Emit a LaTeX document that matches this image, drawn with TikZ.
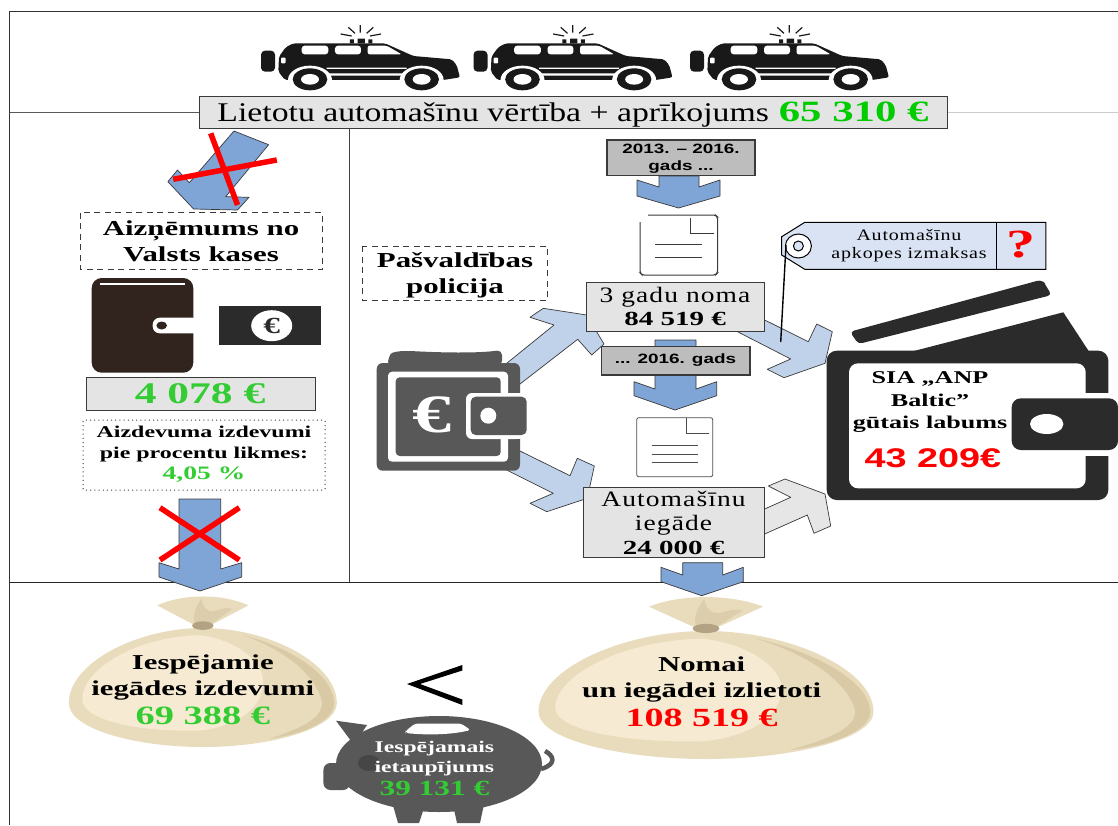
\documentclass[tikz,border=0pt]{standalone}
\usepackage{fontspec}
\setmainfont[FakeStretch=1.25,BoldFeatures={FakeStretch=1.45}]{Liberation Serif}
\setsansfont[FakeStretch=1.2,BoldFeatures={FakeStretch=1.4}]{Liberation Sans}
\definecolor{boxg}{HTML}{E4E4E4}
\definecolor{boxd}{HTML}{BDBDBD}
\definecolor{edge}{HTML}{3A3A3A}
\definecolor{arrowb}{HTML}{7FA4D6}
\definecolor{arrowl}{HTML}{C0D2EA}
\definecolor{arrowg}{HTML}{E6E6E6}
\definecolor{walletg}{HTML}{585858}
\definecolor{walletd}{HTML}{2B2B2B}
\definecolor{walletb}{HTML}{31241E}
\definecolor{greena}{HTML}{00CC00}
\definecolor{greenb}{HTML}{33CC33}
\definecolor{tagb}{HTML}{DAE3F3}
\definecolor{bagbase}{HTML}{E8DCBC}
\definecolor{baglight}{HTML}{F6EBD2}
\definecolor{bagdark}{HTML}{D9C9A5}
\definecolor{bagneck}{HTML}{B3A384}
\definecolor{bagfold}{HTML}{DCCEAC}
\newcommand{\fsz}[2]{\fontsize{#1}{#2}\selectfont}
\newcommand{\spaced}[1]{{\addfontfeature{LetterSpace=5}#1}}
\tikzset{
  txt/.style={inner sep=0pt,align=center,text=black},
  graybox/.style={draw=edge,fill=boxg,line width=1pt},
  darkbox/.style={draw=edge,fill=boxd,line width=1.2pt},
  bigarrow/.style={draw=edge,fill=arrowb,line width=.7pt,line join=round},
  softarrow/.style={draw=edge,fill=arrowl,line width=.7pt,line join=round},
  greyarrow/.style={draw=edge,fill=arrowg,line width=.7pt,line join=round},
  redcross/.style={draw=red,line width=5.5pt},
  dashbox/.style={draw=edge,line width=.9pt,dash pattern=on 6pt off 4.5pt},
  dotbox/.style={draw=edge,line width=1pt,dash pattern=on 1pt off 3.2pt,rounded corners=1pt},
  docshape/.style={draw=edge,line width=1pt,rounded corners=2pt},
  frameline/.style={draw=black!80,line width=1.2pt},
}
\newcommand{\policecar}[1]{%
 \begin{scope}[shift={(#1,20)},xscale=.3333,yscale=.3333]
  \fill[black!90,rounded corners=4pt] (18,92) rectangle (60,155);
  \fill[black!90,rounded corners=2pt] (70,155) -- (72,110) -- (92,82) -- (115,70) -- (390,70) -- (475,108) -- (590,118) -- (605,135) -- (615,172) -- (565,180) -- (90,180) -- cycle;
  \fill[black!90] (285,58) rectangle (297,70) (308,56) rectangle (330,70) (340,58) rectangle (352,70);
  \draw[black!90,line width=1.2pt] (316,15) -- (316,38) (280,22) -- (300,40) (355,22) -- (335,40) (257,42) -- (290,48) (378,42) -- (345,48);
  \fill[white,rounded corners=3pt] (140,77) rectangle (220,103) (240,77) rectangle (318,103);
  \fill[white,rounded corners=2pt] (338,103) -- (338,77) -- (395,77) -- (440,103) -- cycle;
  \fill[white,rounded corners=1pt] (78,113) rectangle (92,130);
  \fill[white] (215,143) rectangle (455,147) (215,160) rectangle (455,167);
  \fill[white] (165,180) ellipse [x radius=66,y radius=43] (500,180) ellipse [x radius=66,y radius=43];
  \fill[white] (90,181) rectangle (230,215) (435,181) rectangle (570,215);
  \fill[black!90] (165,178) ellipse [x radius=52,y radius=33] (500,178) ellipse [x radius=52,y radius=33];
  \fill[white] (165,178) ellipse [x radius=27,y radius=16] (500,178) ellipse [x radius=27,y radius=16];
 \end{scope}}
\newcommand{\moneybag}[4]{%
 \begin{scope}[shift={(#1,#2)},xscale=#3/100,yscale=#4/100]
  \fill[bagbase] (-34,-19) .. controls (-15,-29) and (15,-29) .. (34,-19) -- (7,-3) -- (-7,-3) -- cycle;
  \fill[bagfold] (-6,-4) .. controls (-8,-12) and (-4,-20) .. (-1,-25) .. controls (0,-18) and (2,-14) .. (8,-14) .. controls (14,-16) and (18,-18) .. (22,-16) -- (7,-4) -- cycle;
  \fill[bagbase] (0,0) .. controls (-50,0) and (-100,30) .. (-100,63) .. controls (-100,85) and (-50,100) .. (0,100) .. controls (50,100) and (100,85) .. (100,63) .. controls (100,30) and (50,0) .. (0,0) -- cycle;
  \fill[baglight] (-2,6) .. controls (-50,7) and (-90,35) .. (-90,60) .. controls (-90,78) and (-45,88) .. (0,86) .. controls (25,82) and (45,68) .. (45,45) .. controls (45,28) and (25,10) .. (-2,6) -- cycle;
  \fill[bagdark] (30,6) .. controls (70,18) and (98,42) .. (98,63) .. controls (98,80) and (70,90) .. (50,93) .. controls (75,84) and (90,75) .. (89,62) .. controls (85,42) and (65,20) .. (30,6) -- cycle;
  \fill[bagneck] (0,-2) ellipse [x radius=8,y radius=3.6];
 \end{scope}}
\begin{document}
\begin{tikzpicture}[x=1pt,y=-1pt]
\useasboundingbox (0,0) rectangle (1118,825);
\fill[white] (0,0) rectangle (1118,825);
% frame
\draw[frameline] (1118,11.5) -- (9.5,11.5) -- (9.5,825);
\draw[draw=black!65,line width=1pt] (9.5,112) -- (200,112);
\draw[draw=black!20,line width=1pt] (947,112) -- (1118,112);
\draw[draw=black!75,line width=1pt] (349,128) -- (349,582);
\draw[draw=black!85,line width=1pt] (9.5,582) -- (1118,582);
% cars
\policecar{255}\policecar{467.5}\policecar{684}
% title
\draw[graybox] (199,96) rectangle (947,128);
\node[txt,anchor=base] (title) at (573,121.5) {\fsz{27}{27}Lietotu automašīnu vērtība + aprīkojums\hspace{10pt}\fsz{29.5}{29.5}\textbf{\textcolor{greena}{65 310 €}}};
% left column
\draw[bigarrow] (234,131) -- (268.6,144.7) -- (225.7,196.7) -- (249,197.3) -- (237.5,210) -- (193.6,209) -- (167.9,181.7) -- (177.5,170) -- (189.3,182.7) -- cycle;
\draw[redcross] (210.7,133.3) -- (237.5,205) (173.2,179.3) -- (276.8,160);
\draw[dashbox] (80.4,212.7) rectangle (322.5,269.3);
\node[txt,font=\fsz{21.3}{26}\bfseries] (loan) at (201,241) {Aizņēmums no\\Valsts kases};
\fill[walletb,rounded corners=10pt] (91.7,278) rectangle (193.3,372.7);
\fill[white] (100,283) rectangle (185,285);
\fill[white,rounded corners=7pt] (152.7,317.7) rectangle (200,333.3);
\fill[white] (170,317.7) rectangle (193.8,333.3);
\fill[walletb] (161.7,325.5) ellipse [x radius=5.3,y radius=4];
\fill[walletd] (219,306) rectangle (320.7,345);
\fill[white] (271.7,325.7) ellipse [x radius=20.5,y radius=15.5];
\node[txt,text=walletd] (noteeuro) at (271.7,325.7) {\fsz{23}{23}\textbf{€}};
\draw[graybox] (86.7,377) rectangle (315,410);
\node[txt,text=greenb] (sum) at (200,393.5) {\fsz{30}{30}\textbf{4 078 €}};
\draw[dotbox] (83,420) rectangle (325,490);
\node[txt,font=\fsz{16.5}{21}\bfseries] (rate) at (204,454) {Aizdevuma izdevumi\\pie procentu likmes:\\{\fsz{19}{21}\textcolor{greenb}{4,05 \%}}};
\draw[bigarrow] (179,499) -- (220.7,499) -- (220.7,569) -- (241.7,562.7) -- (241.7,577) -- (200,591) -- (159,577) -- (159,562.7) -- (179,569) -- cycle;
\draw[redcross] (160,507.7) -- (239.3,560) (239.3,507.7) -- (160,560);
% municipal police
\draw[dashbox] (362.5,246) rectangle (547,300);
\node[txt,font=\fsz{21.3}{26}\bfseries] (police) at (455,275) {Pašvaldības\\policija};
% soft arrows
\draw[softarrow] (506.7,363.3) -- (554,325) -- (530,317.3) -- (543.3,308.3) -- (586.7,315) -- (604,344) -- (591.7,355) -- (577.7,339.3) -- (520,384) -- cycle;
\draw[softarrow] (520,451) -- (570,475.7) -- (577.3,458.3) -- (594.3,466) -- (587.3,498.3) -- (546.7,511.7) -- (530,503.3) -- (553.3,493.3) -- (506.7,470) -- cycle;
\draw[softarrow] (764.7,320) -- (808.3,341.7) -- (816.7,324) -- (832.3,331.7) -- (825,363.3) -- (784,377.7) -- (767.3,369.3) -- (790.7,359) -- (736.7,331.3) -- cycle;
\draw[greyarrow] (764,509.3) -- (790.7,497.3) -- (768.3,486) -- (785,479) -- (825,494) -- (830.7,526) -- (814,533.3) -- (807.3,515) -- (764,534.3) -- cycle;
% left wallet
\fill[walletg,rounded corners=5pt] (388,366) -- (388,358) .. controls (392,352) and (400,351) .. (410,351) .. controls (450,353) and (480,353) .. (502,350) -- (502,366) -- cycle;
\fill[walletg,rounded corners=6pt] (376.7,363) rectangle (520,470.7);
\fill[white,rounded corners=4pt] (388,371.7) rectangle (508,461.7);
\fill[walletg,rounded corners=4pt] (395.7,377.3) rectangle (500.7,456);
\fill[white,rounded corners=6pt] (466,393) rectangle (522,439);
\fill[white] (500,393) rectangle (522,439);
\fill[walletg,rounded corners=5pt] (470.7,396.7) rectangle (526.7,435);
\fill[white] (488.3,415.7) circle (8);
\node[txt,text=white] (bige) at (431.7,415) {\fsz{54}{54}\textbf{€}};
% boxes and arrows of middle column
\draw[bigarrow] (659,176) -- (699,176) -- (699,187) -- (720,180) -- (720,196) -- (678.5,208) -- (637,196) -- (637,180) -- (659,187) -- cycle;
\draw[darkbox] (607,140) rectangle (755,175.7);
\node[txt,font=\sffamily\fsz{13.5}{16.5}\bfseries] (y1) at (681,158.5) {2013. – 2016.\\gads ...};
\draw[docshape] (648,215) -- (715.5,215) -- (717.6,217) -- (717.6,273) -- (715.5,275) -- (642,275) -- (640,273) -- (640,222);
\draw[draw=edge,line width=1pt] (690,218) -- (690,233) -- (714,233) (655,244.3) -- (702,244.3) (655,257) -- (702,257);
\draw[bigarrow] (655,340) -- (696,340) -- (696,389) -- (716.7,381.7) -- (716.7,395.7) -- (675,410) -- (634,395.7) -- (634,381.7) -- (655,389) -- cycle;
\draw[graybox] (586.7,282) rectangle (764.7,331.3);
\node[txt,font=\fsz{22}{23.5}] (lease) at (675,306.5) {\spaced{3 gadu noma}\\{\fsz{20}{23.5}\textbf{84 519 €}}};
\draw[darkbox] (601.7,346.7) rectangle (750,375);
\node[txt,font=\sffamily\fsz{13.5}{16}\bfseries] (y2) at (675.5,360.5) {... 2016. gads};
\draw[docshape,draw=black!70,line width=.8pt] (636.7,417.7) rectangle (712.7,476.7);
\draw[draw=black!70,line width=.8pt] (686.7,418) -- (686.7,433.3) -- (709,433.3) (651.7,445.7) -- (697.7,445.7) (651.7,454) -- (697.7,454) (651.7,462.3) -- (697.7,462.3);
\draw[graybox] (583.3,487.3) rectangle (764,557.7);
\node[txt,font=\fsz{22}{24}] (buy) at (673.5,522.5) {\spaced{Automašīnu}\\\spaced{iegāde}\\{\fsz{20}{24}\textbf{24 000 €}}};
\draw[bigarrow] (682.7,562.7) -- (722.7,562.7) -- (722.7,575) -- (743.3,567.3) -- (743.3,581.7) -- (701.7,595.7) -- (661,581.7) -- (661,567.3) -- (682.7,575) -- cycle;
% right wallet
\fill[walletd,rounded corners=4pt] (850,331.7) -- (1033,282) .. controls (1040,280) and (1044,282) .. (1046,286) -- (1051.7,295) -- (858.3,344) -- cycle;
\fill[walletd] (910,352) -- (1063.3,312.3) -- (1089.3,352) -- cycle;
\fill[walletd,rounded corners=10pt] (826.7,350.7) rectangle (1108.3,500);
\fill[white,rounded corners=9pt] (849,363.3) rectangle (1085.7,488.3);
\fill[white] (1080,392.7) rectangle (1110,456);
\fill[walletd,rounded corners=9pt] (1011.7,398.3) rectangle (1118,450);
\fill[white] (1046.7,424) ellipse [x radius=16.7,y radius=10];
\node[txt,font=\fsz{18}{22.5}\bfseries] (anp) at (930,402.5) {SIA „ANP\\Baltic”\\gūtais labums};
\node[txt,text=red] (gain) at (933,458) {\sffamily\fsz{27}{27}\textbf{43 209€}};
% tag
\draw[draw=black,fill=tagb,line width=1pt] (781.7,236.7) -- (804.8,222.3) -- (1045.8,222.3) -- (1045.8,269.3) -- (804.8,269.3) -- (781.7,255) -- cycle;
\draw[draw=black,line width=1pt] (996,222.3) -- (996,269.3);
\draw[draw=black,fill=white,line width=1pt] (798.4,246) ellipse [x radius=13,y radius=12];
\draw[draw=black,fill=tagb,line width=1pt] (798.4,246) circle (5);
\draw[draw=black,line width=1.4pt] (786,245) -- (780.7,342);
\node[txt,font=\fsz{16}{17.5}] (tagtxt) at (909,245.5) {\spaced{Automašīnu}\\\spaced{apkopes izmaksas}};
\node[txt,text=red] (q) at (1021,245) {\fsz{40}{40}\textbf{?}};
% bags
\moneybag{202.8}{628}{134}{119}
\moneybag{706}{631}{167.5}{128}
\node[txt,font=\fsz{21.2}{26}\bfseries] (b1) at (202.8,689.5) {Iespējamie\\iegādes izdevumi\\[3pt]{\fsz{26.5}{26}\textcolor{greenb}{69 388 €}}};
\node[txt,font=\fsz{21.2}{26}\bfseries] (b2) at (701.7,691.5) {Nomai\\un iegādei izlietoti\\[3pt]{\fsz{26.2}{26}\textcolor{red}{108 519 €}}};
% less-than
\fill[black] (462.3,665) -- (407,684) -- (462.3,705) -- (462.3,699.5) -- (420,684) -- (462.3,670.5) -- cycle;
% piggy bank
\fill[walletg] (336,720.7) -- (367,725) -- (354,745) -- cycle;
\fill[walletg] (439,764) ellipse [x radius=103,y radius=48];
\fill[walletg,rounded corners=7pt] (323.4,763) rectangle (350,790);
\fill[walletg] (390,795) -- (398,823) -- (419,823) -- (425,805) -- cycle (453,805) -- (457,823) -- (480,823) -- (486,795) -- cycle;
\draw[draw=walletg,line width=4.5pt] (545,751) .. controls (553,755) and (558,764) .. (541,769);
\fill[white,rounded corners=3pt] (405.6,731) -- (415,723.5) -- (461,723.5) -- (470.7,730) .. controls (450,735) and (425,735) .. (405.6,733) -- cycle;
\fill[black!20!walletg] (369,763) ellipse [x radius=11,y radius=8];
\node[txt,text=white,font=\fsz{16.3}{20}\bfseries] (pig) at (434.4,768) {Iespējamais\\ietaupījums\\[3pt]{\fsz{21.6}{20}\textcolor{greenb}{39 131 €}}};
\end{tikzpicture}
\end{document}
